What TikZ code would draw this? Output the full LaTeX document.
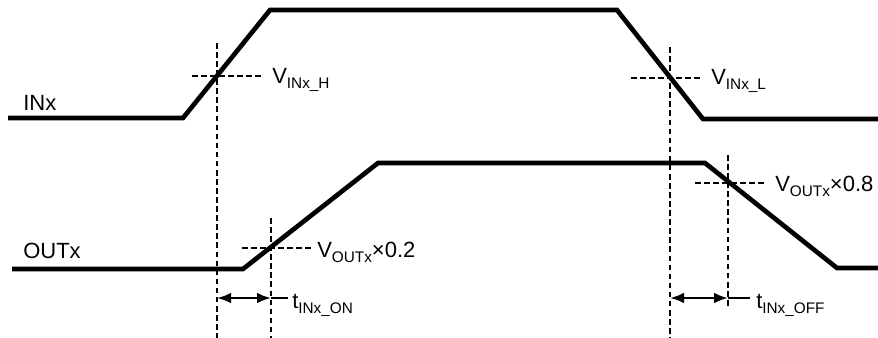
\documentclass[tikz,border=0pt]{standalone}
\usepackage{fontspec}
\setmainfont{Liberation Sans}
\usetikzlibrary{arrows.meta}
\newcommand{\mysub}[1]{\raisebox{-3.8pt}{\fontsize{11.5pt}{13pt}\selectfont #1}}
\tikzset{
  signal/.style={line width=3.5pt, line join=miter},
  guide/.style={line width=1.7pt, dash pattern=on 4.2pt off 2.6pt},
  measure/.style={line width=1.8pt, {Latex[length=10.5pt,width=8pt]}-{Latex[length=10.5pt,width=8pt]}},
  tick/.style={line width=1.3pt},
  lbl/.style={anchor=base west, inner sep=0pt, font=\fontsize{16.5pt}{19pt}\selectfont},
}
\begin{document}
\begin{tikzpicture}[x=0.75pt, y=-0.75pt]
\useasboundingbox (0,0) rectangle (878,337);
% INx signal
\coordinate (i0) at (8,118);
\coordinate (i1) at (183,118);
\coordinate (i2) at (270,10);
\coordinate (i3) at (617,10);
\coordinate (i4) at (703,119);
\coordinate (i5) at (880,119);
\draw[signal] (i0) -- (i1) -- (i2) -- (i3) -- (i4) -- (i5);
% OUTx signal
\coordinate (o0) at (12,269);
\coordinate (o1) at (243,269);
\coordinate (o2) at (378,163);
\coordinate (o3) at (705,163);
\coordinate (o4) at (837,268);
\coordinate (o5) at (880,268);
\draw[signal] (o0) -- (o1) -- (o2) -- (o3) -- (o4) -- (o5);
% signal names
\node[lbl] (nin) at (23,110) {INx};
\node[lbl] (nout) at (23,258) {OUTx};
% threshold guides
\coordinate (vh1) at (217,43);  \coordinate (vh2) at (217,340);
\coordinate (hh1) at (192,76);  \coordinate (hh2) at (263,76);
\coordinate (vl1) at (670,47);  \coordinate (vl2) at (670,340);
\coordinate (hl1) at (631,78);  \coordinate (hl2) at (701,78);
\coordinate (vo1) at (271,218); \coordinate (vo2) at (271,340);
\coordinate (ho1) at (242,248); \coordinate (ho2) at (312,248);
\coordinate (vf1) at (728,155); \coordinate (vf2) at (728,309);
\coordinate (hf1) at (695,183); \coordinate (hf2) at (765,183);
\draw[guide] (vh1) -- (vh2);
\draw[guide] (hh1) -- (hh2);
\draw[guide] (vl1) -- (vl2);
\draw[guide] (hl1) -- (hl2);
\draw[guide] (vo1) -- (vo2);
\draw[guide] (ho1) -- (ho2);
\draw[guide] (vf1) -- (vf2);
\draw[guide] (hf1) -- (hf2);
% threshold labels
\node[lbl] (lh) at (272,83) {V\mysub{INx\_H}};
\node[lbl] (ll) at (711,84) {V\mysub{INx\_L}};
\node[lbl] (l2) at (317,257) {V\mysub{OUTx}×0.2};
\node[lbl] (l8) at (775,191) {V\mysub{OUTx}×0.8};
% delay measures
\coordinate (a1) at (217,298); \coordinate (a2) at (271,298); \coordinate (a3) at (288,298);
\coordinate (b1) at (670,298); \coordinate (b2) at (728,298); \coordinate (b3) at (750,298);
\draw[measure] (a1) -- (a2);
\draw[tick] (a2) -- (a3);
\draw[measure] (b1) -- (b2);
\draw[tick] (b2) -- (b3);
\node[lbl] (ton) at (292,308) {t\mysub{INx\_ON}};
\node[lbl] (toff) at (756,308) {t\mysub{INx\_OFF}};
\end{tikzpicture}
\end{document}
